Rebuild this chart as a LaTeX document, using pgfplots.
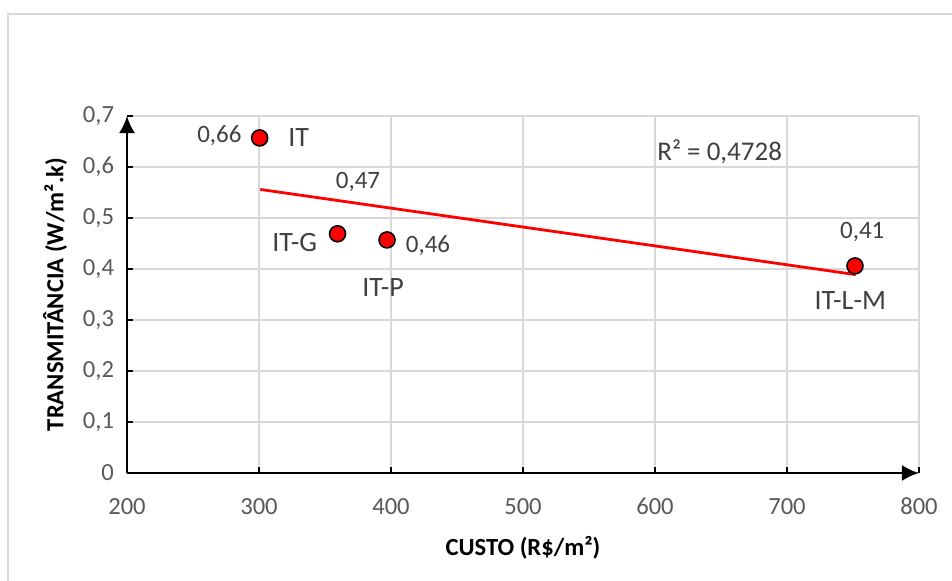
\documentclass[border=0pt]{standalone}
\usepackage{pgfplots}
\pgfplotsset{compat=1.18}
\usepackage{fontspec}
\setmainfont{Carlito}
\usetikzlibrary{arrows.meta}
\definecolor{tickgray}{HTML}{595959}
\definecolor{labdark}{HTML}{404040}
\definecolor{gridgray}{HTML}{D9D9D9}
\begin{document}
\begin{tikzpicture}
\path[use as bounding box] (0,0) rectangle (476bp,290.5bp);
\draw[gridgray, line width=1.2bp] (4bp,0) -- (4bp,283.5bp) -- (476bp,283.5bp);
\begin{axis}[
  at={(63.5bp,54bp)}, anchor=south west,
  scale only axis, width=396bp, height=178.5bp,
  xmin=200, xmax=800, ymin=0, ymax=0.7,
  xtick={200,300,...,800},
  ytick={0,0.1,...,0.7},
  grid=major,
  major grid style={gridgray, line width=0.8bp},
  axis x line*=bottom, axis y line*=left,
  x axis line style={black, line width=1.2bp, -{Latex[length=8.5bp,width=8bp]}},
  y axis line style={black, line width=1.2bp, -{Latex[length=8.5bp,width=8bp]}},
  tick align=inside,
  major tick length=3bp,
  tick style={black, line width=1.2bp},
  /pgf/number format/assume math mode=true,
  /pgf/number format/use comma,
  /pgf/number format/fixed,
  ticklabel style={font=\fontsize{12.3bp}{14bp}\selectfont, text=tickgray},
  xticklabel style={yshift=-9bp},
  yticklabel style={xshift=-3bp},
  xlabel={\textbf{CUSTO (R\$/m²)}},
  ylabel={\textbf{TRANSMITÂNCIA (W/m².k)}},
  label style={font=\fontsize{12.3bp}{14bp}\selectfont, text=black},
  xlabel style={at={(axis description cs:0.5,-0.21)}, anchor=center},
  ylabel style={at={(axis description cs:-0.0909,0.5)}, anchor=center},
  clip=false,
]
\addplot[red, line width=1.4bp, forget plot] coordinates {(301,0.556) (752,0.389)};
\addplot[only marks, mark=*, mark size=4bp, mark options={fill=red, draw=black, line width=0.8bp}]
  coordinates {(300.5,0.657) (359.5,0.469) (397,0.457) (751.5,0.406)};
\begin{scope}[every node/.style={font=\fontsize{12.5bp}{14bp}\selectfont, text=labdark, inner sep=0pt}]
\node at (axis cs:270,0.661) {0,66};
\node at (axis cs:375,0.571) {0,47};
\node at (axis cs:428,0.445) {0,46};
\node at (axis cs:757,0.473) {0,41};
\end{scope}
\begin{scope}[every node/.style={font=\fontsize{14bp}{16bp}\selectfont, text=labdark, inner sep=0pt}]
\node at (axis cs:330,0.657) {IT};
\node at (axis cs:327,0.451) {IT-G};
\node at (axis cs:394,0.363) {IT-P};
\node at (axis cs:748,0.339) {IT-L-M};
\end{scope}
\node[font=\fontsize{13.5bp}{16bp}\selectfont, text=labdark, inner sep=0pt] at (axis cs:649,0.629) {R² = 0,4728};
\end{axis}
\end{tikzpicture}
\end{document}
